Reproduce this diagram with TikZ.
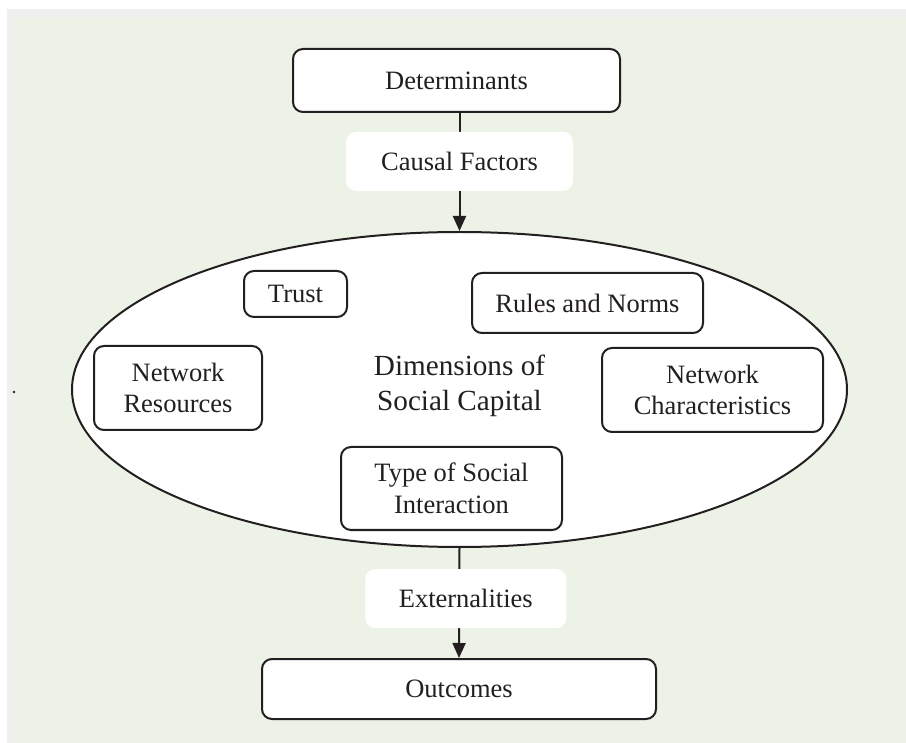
\documentclass[tikz,border=0pt]{standalone}
\usepackage{fontspec}
\setmainfont{Liberation Serif}
\usetikzlibrary{shapes.geometric,arrows.meta}
\definecolor{ink}{RGB}{35,31,32}
\definecolor{panelgreen}{RGB}{237,242,231}
\definecolor{framegray}{RGB}{239,239,239}
\begin{document}
\begin{tikzpicture}[x=0.5pt,y=-0.5pt,
  box/.style={draw=ink, line width=1pt, rounded corners=5pt, fill=white,
    align=center, inner sep=0pt, text=ink,
    font=\fontsize{13.25pt}{15.8pt}\selectfont},
  tag/.style={fill=white, rounded corners=5pt, align=center, inner sep=0pt,
    text=ink, font=\fontsize{13.25pt}{15.8pt}\selectfont},
  flow/.style={draw=ink, line width=1pt,
    -{Triangle[width=6.5pt,length=7.5pt]}},
]
% page size first, then the frame strip and panel running off the edges
\useasboundingbox (0,0) rectangle (906,743);
\fill[white] (-10,-10) rectangle (920,760);
\fill[framegray] (7,9) rectangle (920,760);
\fill[panelgreen] (14,17) rectangle (920,760);
\fill[ink] (14,392) circle (0.7pt);

% top and bottom boxes
\node[box, minimum width=163.5pt, minimum height=31.5pt] (det) at (456.5,80.5) {Determinants};
\node[box, minimum width=197pt, minimum height=30pt] (out) at (459,689) {Outcomes};

% the dimensions ellipse
\node[ellipse, draw=ink, line width=1pt, fill=white, inner sep=0pt,
  minimum width=387.5pt, minimum height=157.5pt] (dim) at (459.5,389.5) {};
\node[align=center, text=ink, inner sep=0pt,
  font=\fontsize{14.6pt}{17.8pt}\selectfont] (dimtext) at (459.5,386)
  {Dimensions of\\Social Capital};

% dimensions
\node[box, minimum width=51.5pt, minimum height=23pt] (trust) at (295.5,294) {Trust};
\node[box, minimum width=115.5pt, minimum height=30pt] (rules) at (587.5,303) {Rules and Norms};
\node[box, minimum width=84pt, minimum height=42pt] (netres) at (178,388) {Network\\Resources};
\node[box, minimum width=110.5pt, minimum height=42pt] (netchar) at (712.5,390) {Network\\Characteristics};
\node[box, minimum width=110.5pt, minimum height=41.5pt] (social) at (451.5,488.5) {Type of Social\\Interaction};

% flows
\draw[flow] (det.south -| dim.north) -- node[tag, pos=.41, minimum width=113.5pt, minimum height=29.5pt] (causal) {Causal Factors} (dim.north);
\draw[flow] (dim.south) -- node[tag, pos=.46, xshift=3.25pt, minimum width=100.5pt, minimum height=29.5pt] (ext) {Externalities} (out.north);
\end{tikzpicture}
\end{document}
